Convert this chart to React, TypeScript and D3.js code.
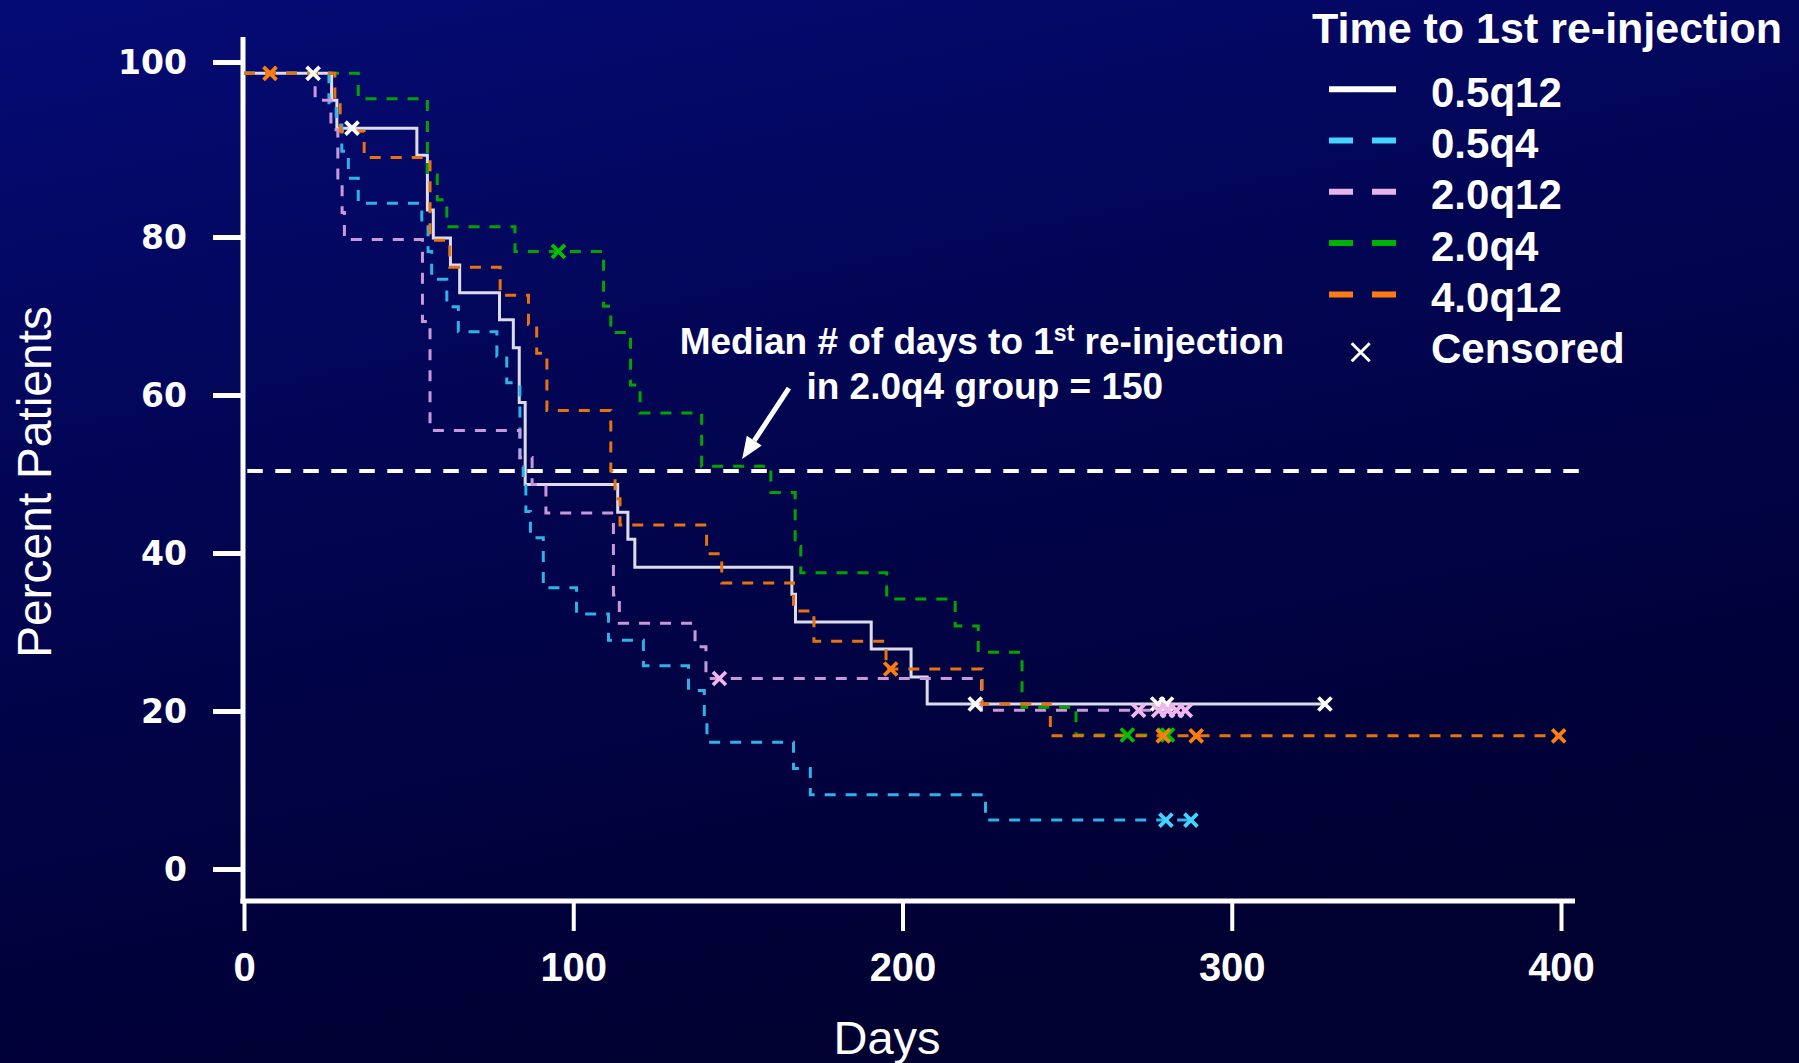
import React, { useRef, useEffect } from "react";
import * as d3 from "d3";

// groups in legend order
const groups = ["0.5q12", "0.5q4", "2.0q12", "2.0q4", "4.0q12"];
const lineColors = ["#dcdcec", "#2fb2e6", "#c898d8", "#00a400", "#e8720e"];
const markColors = ["#ffffff", "#44d2ff", "#f0b6f0", "#00c000", "#ff7c10"];
const legendColors = ["#ffffff", "#44d4ff", "#e8b4e8", "#00b000", "#ff7a10"];
const dashed = [false, true, true, true, true];

// [day, percent] : value after each drop
const steps05q12 = [
  [0, 100], [26.6, 96.6], [28.2, 93.1], [52.5, 89.7], [55.7, 82.8], [57.5, 79.3],
  [62.7, 75.9], [65.5, 72.4], [77.6, 69.0], [81.8, 65.5], [83.6, 58.6], [85.4, 48.3],
  [113.5, 44.8], [116.6, 41.4], [118.7, 37.9], [166.4, 34.5], [167.5, 31.0],
  [190.5, 27.6], [202.6, 24.1], [207.5, 20.7],
];
const steps05q4 = [
  [0, 100], [25.8, 96.0], [28.0, 93.5], [29.7, 90.2], [31.7, 86.8], [34.7, 83.65],
  [54.0, 80.7], [55.9, 77.6], [57.0, 74.1], [61.6, 70.65], [65.1, 67.5], [76.8, 64.4],
  [79.8, 61.1], [83.8, 50.5], [84.8, 48.5], [85.6, 44.9], [87.0, 41.6], [90.9, 35.3],
  [101.0, 32.0], [110.7, 28.7], [121.3, 25.5], [135.0, 22.4], [139.8, 19.1],
  [140.6, 15.9], [166.9, 12.6], [172.0, 9.3], [225.2, 6.1],
];
const steps20q12 = [
  [0, 100], [21.6, 96.6], [26.4, 92.9], [28.5, 86.0], [29.8, 82.5], [30.5, 79.1],
  [54.2, 68.8], [56.5, 55.1], [83.8, 51.7], [87.5, 48.3], [91.7, 44.7], [112.2, 34.4],
  [114.0, 30.85], [137.0, 27.9], [140.3, 23.9], [224.0, 19.9],
];
const steps20q4 = [
  [0, 100], [34.7, 96.8], [55.7, 87.2], [58.7, 84.1], [61.6, 80.7], [82.3, 77.6],
  [109.2, 70.7], [111.4, 67.4], [117.4, 60.8], [120.3, 57.3], [139.0, 50.6],
  [160.0, 47.3], [167.4, 40.5], [169.1, 37.2], [195.2, 33.9], [216.0, 30.5],
  [223.0, 27.2], [236.3, 20.3], [252.7, 16.8],
];
const steps40q12 = [
  [0, 100], [27.6, 96.6], [29.2, 92.7], [36.5, 89.4], [56.5, 79.0], [62.5, 75.6],
  [77.8, 72.1], [86.4, 68.4], [88.9, 64.8], [92.0, 57.6], [111.4, 50.0], [112.7, 46.5],
  [114.2, 43.2], [140.5, 39.6], [145.1, 35.9], [166.9, 32.4], [173.1, 28.6],
  [195.0, 25.1], [224.2, 20.7], [244.9, 16.7],
];

// censored observations [day, percent]
const censor05q12 = [[21, 100], [32.8, 93.1], [222.1, 20.7], [277.5, 20.7], [280.2, 20.7], [328.3, 20.7]];
const censor05q4 = [[280.0, 6.1], [287.6, 6.1]];
const censor20q12 = [[144.4, 23.9], [271.7, 19.9], [277.8, 19.9], [280.5, 19.9], [283.2, 19.9], [285.9, 19.9]];
const censor20q4 = [[95.5, 77.6], [268.3, 16.8], [279.4, 16.8], [280.5, 16.8]];
const censor40q12 = [[7.9, 100], [196.4, 25.1], [279.2, 16.7], [289.2, 16.7], [399.3, 16.7]];

const xTicks = [0, 100, 200, 300, 400];
const yTicks = [0, 20, 40, 60, 80, 100];
const medianPct = 50;
const medianLineDays = [1, 406.7];

// annotation, in data units
const noteLine1 = "Median # of days to 1";
const noteSup = "st";
const noteLine1b = " re-injection";
const noteLine2 = "in 2.0q4 group = 150";
const notePos = [224.1, 64.7];
const notePos2 = [225.0, 59.1];
const arrowFrom = [165.5, 60.4];
const arrowTo = [151.3, 51.5];

const FONT = "'Liberation Sans', Arial, sans-serif";
const TICKFONT = "'DejaVu Sans', Verdana, sans-serif";

const App = () => {
  const ref = useRef<SVGSVGElement>(null);

  useEffect(() => {
    const width = 1799;
    const height = 1063;
    const axisX = 243;
    const axisY = 901;

    const steps = [steps05q12, steps05q4, steps20q12, steps20q4, steps40q12];
    const censors = [censor05q12, censor05q4, censor20q12, censor20q4, censor40q12];
    const series = groups.map((g, i) => ({
      name: g,
      steps: steps[i],
      censor: censors[i],
      line: lineColors[i],
      mark: markColors[i],
      legend: legendColors[i],
      dashed: dashed[i],
    }));

    const x = d3.scaleLinear().domain([0, 400]).range([244, 1561]);
    const y = d3.scaleLinear().domain([0, 100]).range([868.6, 73.3]);
    // the printed axis puts its 100 tick a bit higher than the data's 100
    const yAxisScale = d3.scaleLinear().domain([0, 80, 100]).range([869, 237, 62]);

    const svg = d3.select(ref.current);
    svg.selectAll("*").remove();

    const defs = svg.append("defs");
    const grad = defs
      .append("linearGradient")
      .attr("id", "bg")
      .attr("x1", 0)
      .attr("y1", 0)
      .attr("x2", 0.35)
      .attr("y2", 1);
    grad.append("stop").attr("offset", 0).attr("stop-color", "#050b76");
    grad.append("stop").attr("offset", 0.45).attr("stop-color", "#020552");
    grad.append("stop").attr("offset", 1).attr("stop-color", "#000031");

    svg.append("rect").attr("width", width).attr("height", height).attr("fill", "url(#bg)");

    // y axis
    const gy = svg
      .append("g")
      .attr("transform", `translate(${axisX},0)`)
      .call(d3.axisLeft(yAxisScale).tickValues(yTicks).tickSize(30).tickSizeOuter(0).tickPadding(26));
    gy.select(".domain").remove();
    gy.selectAll(".tick line").attr("stroke", "#fff").attr("stroke-width", 5);
    gy.selectAll(".tick text")
      .attr("fill", "#fff")
      .attr("dy", "0.36em")
      .style("font-family", TICKFONT)
      .style("font-weight", "bold")
      .style("font-size", "33px");
    svg.append("line")
      .attr("x1", axisX).attr("x2", axisX)
      .attr("y1", 37).attr("y2", axisY + 2.5)
      .attr("stroke", "#fff").attr("stroke-width", 5);

    // x axis
    const gx = svg
      .append("g")
      .attr("transform", `translate(0,${axisY})`)
      .call(d3.axisBottom(x).tickValues(xTicks).tickSize(30).tickSizeOuter(0));
    gx.select(".domain").remove();
    gx.selectAll(".tick line").attr("stroke", "#fff").attr("stroke-width", 4);
    gx.selectAll(".tick text")
      .attr("fill", "#fff")
      .attr("y", 80)
      .attr("dy", null)
      .style("font-family", FONT)
      .style("font-weight", "bold")
      .style("font-size", "40px");
    svg.append("line")
      .attr("x1", axisX - 2.5).attr("x2", 1575)
      .attr("y1", axisY).attr("y2", axisY)
      .attr("stroke", "#fff").attr("stroke-width", 5);

    // axis titles
    svg.append("text")
      .attr("transform", `translate(51,482) rotate(-90)`)
      .attr("text-anchor", "middle")
      .attr("fill", "#fff")
      .style("font-family", FONT)
      .style("font-size", "48px")
      .text("Percent Patients");
    svg.append("text")
      .attr("x", 887)
      .attr("y", 1054)
      .attr("text-anchor", "middle")
      .attr("fill", "#fff")
      .style("font-family", FONT)
      .style("font-size", "47px")
      .text("Days");

    // median reference line
    svg.append("line")
      .attr("x1", x(medianLineDays[0])).attr("x2", x(medianLineDays[1]))
      .attr("y1", y(medianPct)).attr("y2", y(medianPct))
      .attr("stroke", "#fff")
      .attr("stroke-width", 4)
      .attr("stroke-dasharray", "15.5 12.5");

    // survival curves
    const line = d3
      .line<number[]>()
      .x((d) => x(d[0]))
      .y((d) => y(d[1]))
      .curve(d3.curveStepAfter);

    const cross = "M-6.5,-6.5L6.5,6.5M-6.5,6.5L6.5,-6.5";

    series.forEach((s) => {
      const lastDay = d3.max(s.censor, (d) => d[0]) as number;
      const pts = s.steps.concat([[lastDay, s.steps[s.steps.length - 1][1]]]);
      svg.append("path")
        .datum(pts)
        .attr("fill", "none")
        .attr("stroke", s.line)
        .attr("stroke-width", 3)
        .attr("stroke-dasharray", s.dashed ? "11 10" : null)
        .attr("d", line);
    });

    series.forEach((s) => {
      svg.append("g")
        .selectAll("path")
        .data(s.censor)
        .join("path")
        .attr("transform", (d) => `translate(${x(d[0])},${y(d[1])})`)
        .attr("d", cross)
        .attr("fill", "none")
        .attr("stroke", s.mark)
        .attr("stroke-width", 3.8);
    });

    // annotation
    const note = svg.append("g")
      .attr("fill", "#fff")
      .style("font-family", FONT)
      .style("font-weight", "bold")
      .style("font-size", "37px")
      .attr("text-anchor", "middle");
    const t1 = note.append("text").attr("x", x(notePos[0])).attr("y", y(notePos[1]));
    t1.append("tspan").text(noteLine1);
    t1.append("tspan").attr("dy", -13).style("font-size", "23px").text(noteSup);
    t1.append("tspan").attr("dy", 13).text(noteLine1b);
    note.append("text").attr("x", x(notePos2[0])).attr("y", y(notePos2[1])).text(noteLine2);

    const ax1 = x(arrowFrom[0]), ay1 = y(arrowFrom[1]);
    const ax2 = x(arrowTo[0]), ay2 = y(arrowTo[1]);
    const ang = Math.atan2(ay2 - ay1, ax2 - ax1);
    const headLen = 22;
    const headW = 9;
    const bx = ax2 - headLen * Math.cos(ang);
    const by = ay2 - headLen * Math.sin(ang);
    svg.append("line")
      .attr("x1", ax1).attr("y1", ay1).attr("x2", bx).attr("y2", by)
      .attr("stroke", "#fff").attr("stroke-width", 5);
    svg.append("path")
      .attr("d", `M${ax2},${ay2}L${bx + headW * Math.sin(ang)},${by - headW * Math.cos(ang)}L${bx - headW * Math.sin(ang)},${by + headW * Math.cos(ang)}Z`)
      .attr("fill", "#fff");

    // legend
    const lg = svg.append("g").style("font-family", FONT).style("font-weight", "bold");
    lg.append("text")
      .attr("x", 1312)
      .attr("y", 42.7)
      .attr("fill", "#fff")
      .style("font-size", "43px")
      .text("Time to 1st re-injection");

    const rowH = 51.3;
    series.forEach((s, i) => {
      const base = 106.7 + i * rowH;
      lg.append("line")
        .attr("x1", 1329).attr("x2", 1396)
        .attr("y1", base - 17.5).attr("y2", base - 17.5)
        .attr("stroke", s.legend)
        .attr("stroke-width", 6)
        .attr("stroke-dasharray", s.dashed ? "24 19" : null);
      lg.append("text")
        .attr("x", 1431)
        .attr("y", base)
        .attr("fill", "#fff")
        .style("font-size", "42px")
        .text(s.name);
    });
    const cBase = 106.7 + groups.length * rowH;
    lg.append("path")
      .attr("transform", `translate(1360.7,${cBase - 11})`)
      .attr("d", "M-9,-9L9,9M-9,9L9,-9")
      .attr("stroke", "#fff")
      .attr("stroke-width", 3);
    lg.append("text")
      .attr("x", 1431)
      .attr("y", cBase)
      .attr("fill", "#fff")
      .style("font-size", "42px")
      .text("Censored");
  }, []);

  return (
    <svg
      ref={ref}
      width={1799}
      height={1063}
      style={{ position: "absolute", left: 0, top: 0, display: "block" }}
    />
  );
};

export default App;
